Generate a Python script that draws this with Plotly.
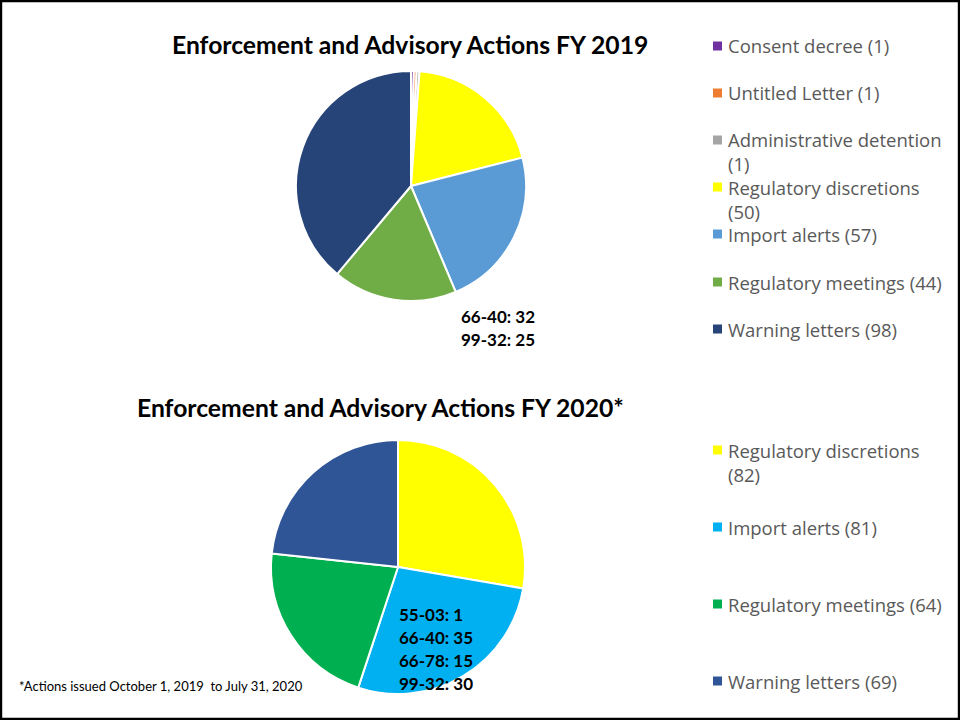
import plotly.graph_objects as go

# ---- data ----
labels_2019 = ["Consent decree", "Untitled Letter", "Administrative detention",
               "Regulatory discretions", "Import alerts", "Regulatory meetings", "Warning letters"]
values_2019 = [1, 1, 1, 50, 57, 44, 98]
colors_2019 = ["#7030A0", "#ED7D31", "#A5A5A5", "#FFFF00", "#5B9BD5", "#70AD47", "#264478"]
legend_text_2019 = ["Consent decree (1)", "Untitled Letter (1)", "Administrative detention<br>(1)",
                    "Regulatory discretions<br>(50)", "Import alerts (57)",
                    "Regulatory meetings (44)", "Warning letters (98)"]

labels_2020 = ["Regulatory discretions", "Import alerts", "Regulatory meetings", "Warning letters"]
values_2020 = [82, 81, 64, 69]
colors_2020 = ["#FFFF00", "#00B0F0", "#00B050", "#2F5597"]
legend_text_2020 = ["Regulatory discretions<br>(82)", "Import alerts (81)",
                    "Regulatory meetings (64)", "Warning letters (69)"]

import_breakdown_2019 = ["66-40: 32", "99-32: 25"]
import_breakdown_2020 = ["55-03: 1", "66-40: 35", "66-78: 15", "99-32: 30"]

W, H = 960, 720

def px(x):
    return x / W

def py(y):
    return 1 - y / H

fig = go.Figure()

fig.add_trace(go.Pie(
    labels=labels_2019, values=values_2019, sort=False, direction="clockwise", rotation=0,
    marker=dict(colors=colors_2019, line=dict(color="white", width=2)),
    textinfo="none", showlegend=False,
    domain=dict(x=[px(296), px(526)], y=[py(301), py(71)]),
))
fig.add_trace(go.Pie(
    labels=labels_2020, values=values_2020, sort=False, direction="clockwise", rotation=0,
    marker=dict(colors=colors_2020, line=dict(color="white", width=2)),
    textinfo="none", showlegend=False,
    domain=dict(x=[px(271), px(525)], y=[py(694), py(440)]),
))

annotations = []
shapes = []

# titles
title_font = dict(family="Lato", size=24.7, color="black")
annotations.append(dict(x=px(410), y=py(44), xref="paper", yref="paper", showarrow=False,
                        text="<b>Enforcement and Advisory Actions FY 2019</b>",
                        font=title_font, xanchor="center", yanchor="middle"))
annotations.append(dict(x=px(380), y=py(407), xref="paper", yref="paper", showarrow=False,
                        text="<b>Enforcement and Advisory Actions FY 2020*</b>",
                        font=title_font, xanchor="center", yanchor="middle"))

# legends
legend_font = dict(family="Open Sans", size=18.5, color="#595959")
y_2019 = [46, 93, 140, 187, 234, 282, 329]
for txt, col, yy in zip(legend_text_2019, colors_2019, y_2019):
    annotations.append(dict(x=px(726), y=py(yy - 14.5), xref="paper", yref="paper", showarrow=False,
                            text=txt, font=legend_font, xanchor="left", yanchor="top", align="left"))
    shapes.append(dict(type="rect", xref="paper", yref="paper",
                       x0=px(713), x1=px(722), y0=py(yy + 4.5), y1=py(yy - 4.5),
                       fillcolor=col, line=dict(width=0)))

y_2020 = [450, 527, 604, 681]
for txt, col, yy in zip(legend_text_2020, colors_2020, y_2020):
    annotations.append(dict(x=px(726), y=py(yy - 14.5), xref="paper", yref="paper", showarrow=False,
                            text=txt, font=legend_font, xanchor="left", yanchor="top", align="left"))
    shapes.append(dict(type="rect", xref="paper", yref="paper",
                       x0=px(713), x1=px(722), y0=py(yy + 4.5), y1=py(yy - 4.5),
                       fillcolor=col, line=dict(width=0)))

# import alert breakdowns
bd_font = dict(family="Lato", size=17, color="black")
for i, t in enumerate(import_breakdown_2019):
    annotations.append(dict(x=px(459), y=py(316 + 23 * i), xref="paper", yref="paper", showarrow=False,
                            text="<b>" + t + "</b>", font=bd_font, xanchor="left", yanchor="middle"))
for i, t in enumerate(import_breakdown_2020):
    annotations.append(dict(x=px(397), y=py(614 + 23 * i), xref="paper", yref="paper", showarrow=False,
                            text="<b>" + t + "</b>", font=bd_font, xanchor="left", yanchor="middle"))

# footnote
annotations.append(dict(x=px(17), y=py(686), xref="paper", yref="paper", showarrow=False,
                        text="*Actions issued October 1, 2019  to July 31, 2020",
                        font=dict(family="Lato", size=13, color="black"),
                        xanchor="left", yanchor="middle"))

# border
shapes.append(dict(type="rect", xref="paper", yref="paper", x0=0.001, x1=0.999, y0=0.0015, y1=0.9985,
                   line=dict(color="black", width=2.5), fillcolor="rgba(0,0,0,0)"))

fig.update_layout(
    width=W, height=H, margin=dict(l=0, r=0, t=0, b=0),
    paper_bgcolor="white", plot_bgcolor="white",
    annotations=annotations, shapes=shapes, showlegend=False,
)

fig.write_html("out.html", config={"displayModeBar": False},
               post_script="document.body.style.margin='0px';document.body.style.overflow='hidden';")
